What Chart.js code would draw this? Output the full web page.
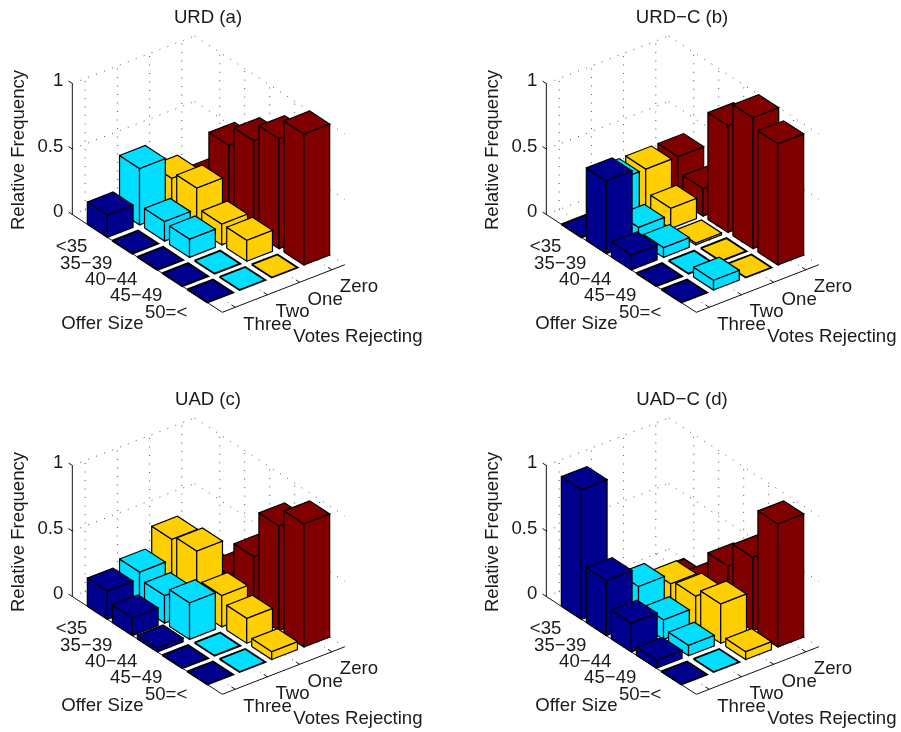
<!DOCTYPE html>
<html>
<head>
<meta charset="utf-8">
<title>Relative frequency of rejecting votes</title>
<script src="https://cdn.jsdelivr.net/npm/chart.js@4"></script>
<style>
    html, body { margin: 0; padding: 0; background: #fff; }
    #page { position: relative; width: 901px; height: 732px; overflow: hidden; }
    #page canvas { position: absolute; }
</style>
</head>
<body>
<div id="page">
    <canvas id="panelA" width="427" height="350" style="left:0;top:0"></canvas>
    <canvas id="panelB" width="427" height="350" style="left:474px;top:0"></canvas>
    <canvas id="panelC" width="427" height="350" style="left:0;top:382px"></canvas>
    <canvas id="panelD" width="427" height="350" style="left:474px;top:382px"></canvas>
</div>
<script>
// Axis labels
const offerLabels = ['<35', '35\u221239', '40\u221244', '45\u221249', '50=<'];
const voteLabels = ['Three', 'Two', 'One', 'Zero'];
const zTicks = [0, 0.5, 1];
const zTickLabels = ['0', '0.5', '1'];

// Values per offer size
const urdThree = [0.17, 0, 0, 0, 0];
const urdTwo = [0.43, 0.15, 0.14, 0, 0];
const urdOne = [0.26, 0.31, 0.16, 0.16, 0];
const urdZero = [0.14, 0.54, 0.70, 0.84, 1];

const urdcThree = [0, 0.555, 0.115, 0, 0];
const urdcTwo = [0.33, 0.105, 0.075, 0, 0.075];
const urdcOne = [0.33, 0.155, 0.015, 0, 0];
const urdcZero = [0.33, 0.21, 0.815, 1, 0.925];

const uadThree = [0.215, 0.135, 0.03, 0, 0];
const uadTwo = [0.265, 0.21, 0.28, 0, 0];
const uadOne = [0.42, 0.455, 0.24, 0.19, 0.06];
const uadZero = [0.10, 0.18, 0.44, 0.80, 0.94];

const uadcThree = [0.99, 0.42, 0.22, 0.06, 0];
const uadcTwo = [0, 0.28, 0.15, 0.08, 0];
const uadcOne = [0, 0.205, 0.235, 0.30, 0.06];
const uadcZero = [0, 0.10, 0.37, 0.56, 0.94];

// One colour per vote count
const voteColors = ['#00008f', '#00dfff', '#ffcf00', '#800000'];

// Oblique view of the box: screen units per data unit
const view = {
    originX: 53, originY: 222,
    offerX: 25, offerY: 16.3,
    voteX: 32.2, voteY: -12.5,
    height: 131
};
const offerRange = [0, 6];
const voteRange = [0.6, 4.4];
const barWidth = 0.8;
const font = '18.6px "Liberation Sans", Arial, sans-serif';

function project(u, v, z) {
    return {
        x: view.originX + u * view.offerX + v * view.voteX,
        y: view.originY + u * view.offerY + v * view.voteY - z * view.height
    };
}

// A non-empty dash keeps Chart.js off its fast line path, which merges vertical edges
function faceDataset(points, color, edge) {
    return {
        type: 'line',
        data: points.concat([points[0]]),
        backgroundColor: color,
        borderColor: '#000',
        borderWidth: edge,
        borderDash: [2000, 0],
        fill: 'shape',
        pointRadius: 0,
        tension: 0,
        clip: false
    };
}

function lineDataset(from, to, color, dash) {
    return {
        type: 'line',
        data: [from, to],
        borderColor: color,
        borderWidth: 1,
        borderDash: dash,
        fill: false,
        pointRadius: 0,
        tension: 0,
        clip: false
    };
}

function gridDatasets() {
    const sets = [];
    const dots = [1, 7.5];
    const grey = '#555';
    const [uMin, uMax] = offerRange;
    const [vMin, vMax] = voteRange;

    zTicks.forEach(z => {
        sets.push(lineDataset(project(uMin, vMin, z), project(uMin, vMax, z), grey, dots));
        sets.push(lineDataset(project(uMin, vMax, z), project(uMax, vMax, z), grey, dots));
    });
    voteLabels.forEach((_, j) => {
        sets.push(lineDataset(project(uMin, j + 1, 0), project(uMin, j + 1, 1), grey, dots));
        sets.push(lineDataset(project(uMin, j + 1, 0), project(uMax, j + 1, 0), grey, dots));
    });
    offerLabels.forEach((_, i) => {
        sets.push(lineDataset(project(i + 1, vMax, 0), project(i + 1, vMax, 1), grey, dots));
        sets.push(lineDataset(project(i + 1, vMin, 0), project(i + 1, vMax, 0), grey, dots));
    });
    return sets;
}

function axisDatasets() {
    const sets = [];
    const solid = [2000, 0];
    const black = '#111';
    const [uMin, uMax] = offerRange;
    const [vMin, vMax] = voteRange;

    sets.push(lineDataset(project(uMin, vMin, 0), project(uMin, vMin, 1), black, solid));
    sets.push(lineDataset(project(uMin, vMin, 0), project(uMax, vMin, 0), black, solid));
    sets.push(lineDataset(project(uMax, vMin, 0), project(uMax, vMax, 0), black, solid));

    zTicks.forEach(z => {
        sets.push(lineDataset(project(uMin, vMin, z), project(uMin - 0.15, vMin, z), black, solid));
    });
    offerLabels.forEach((_, i) => {
        sets.push(lineDataset(project(i + 1, vMin, 0), project(i + 1, vMin + 0.1, 0), black, solid));
    });
    voteLabels.forEach((_, j) => {
        sets.push(lineDataset(project(uMax, j + 1, 0), project(uMax - 0.15, j + 1, 0), black, solid));
    });
    return sets;
}

// Painter's order: back rows first, far vote column first
function barDatasets(series) {
    const sets = [];
    const half = barWidth / 2;
    offerLabels.forEach((_, i) => {
        for (let j = voteLabels.length - 1; j >= 0; j--) {
            const z = series[j][i];
            const color = voteColors[j];
            const u0 = i + 1 - half, u1 = i + 1 + half;
            const v0 = j + 1 - half, v1 = j + 1 + half;
            if (z > 0) {
                sets.push(faceDataset([project(u0, v0, 0), project(u1, v0, 0), project(u1, v0, z), project(u0, v0, z)], color, 1.2));
                sets.push(faceDataset([project(u1, v0, 0), project(u1, v1, 0), project(u1, v1, z), project(u1, v0, z)], color, 1.2));
            }
            // empty cells only show a flat tile with a heavier outline
            sets.push(faceDataset([project(u0, v0, z), project(u1, v0, z), project(u1, v1, z), project(u0, v1, z)], color, z > 0 ? 1.2 : 1.9));
        }
    });
    return sets;
}

// Tick labels, axis titles and panel title, placed through the chart's scales
const panelText = {
    id: 'panelText',
    afterDatasetsDraw(chart, args, options) {
        const { ctx, scales } = chart;
        const put = (text, x, y, align) => {
            ctx.textAlign = align;
            ctx.fillText(text, scales.x.getPixelForValue(x), scales.y.getPixelForValue(y));
        };
        ctx.save();
        ctx.font = font;
        ctx.fillStyle = '#1a1a1a';
        ctx.textBaseline = 'middle';

        const corner = project(offerRange[0], voteRange[0], 0);
        put(options.title, 208, 18, 'center');
        zTicks.forEach((z, k) => {
            const p = project(offerRange[0], voteRange[0], z);
            put(zTickLabels[k], p.x - 9, p.y - 2.5, 'right');
        });
        offerLabels.forEach((label, i) => {
            const p = project(i + 1, voteRange[0], 0);
            put(label, p.x - 10, p.y + 16.5, 'right');
        });
        voteLabels.forEach((label, j) => {
            const p = project(offerRange[1], j + 1, 0);
            put(label, p.x + 8, p.y + 17.5, 'left');
        });
        put('Offer Size', corner.x - 11, corner.y + 109.5, 'left');
        put('Votes Rejecting', corner.x + 221, corner.y + 122.5, 'left');

        // rotated z axis title
        ctx.translate(scales.x.getPixelForValue(19), scales.y.getPixelForValue(150));
        ctx.rotate(-Math.PI / 2);
        ctx.textAlign = 'center';
        ctx.fillText('Relative Frequency', 0, 0);
        ctx.restore();
    }
};

function createPanelChart(canvasId, title, series) {
    const canvas = document.getElementById(canvasId);
    // Chart.js paints the first dataset last, so hand them over front to back
    const datasets = gridDatasets().concat(axisDatasets(), barDatasets(series)).reverse();

    return new Chart(canvas, {
        type: 'line',
        data: { datasets: datasets },
        plugins: [panelText],
        options: {
            responsive: false,
            animation: false,
            layout: { padding: 0 },
            scales: {
                x: { type: 'linear', min: 0, max: canvas.width, display: false },
                y: { type: 'linear', min: 0, max: canvas.height, reverse: true, display: false }
            },
            plugins: {
                legend: { display: false },
                tooltip: { enabled: false },
                panelText: { title: title }
            }
        }
    });
}

createPanelChart('panelA', 'URD (a)', [urdThree, urdTwo, urdOne, urdZero]);
createPanelChart('panelB', 'URD\u2212C (b)', [urdcThree, urdcTwo, urdcOne, urdcZero]);
createPanelChart('panelC', 'UAD (c)', [uadThree, uadTwo, uadOne, uadZero]);
createPanelChart('panelD', 'UAD\u2212C (d)', [uadcThree, uadcTwo, uadcOne, uadcZero]);
</script>
</body>
</html>
